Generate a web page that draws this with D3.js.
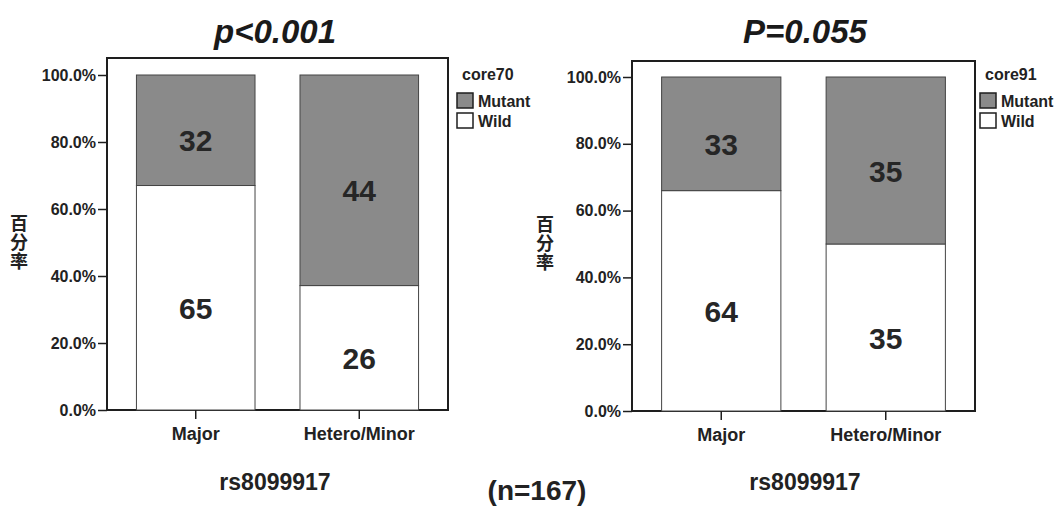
<!DOCTYPE html>
<html>
<head>
<meta charset="utf-8">
<script src="https://cdn.jsdelivr.net/npm/d3@7"></script>
<style>
  html, body { margin: 0; padding: 0; background: #fff; }
  svg { display: block; font-family: "Liberation Sans", Arial, sans-serif; }
</style>
</head>
<body>
<svg id="chart" width="1059" height="506"></svg>
<script>
// Genotype groups along the x axis
const groups = ["Major", "Hetero/Minor"];

// Counts per group (core70)
const core70Wild = [65, 26];
const core70Mutant = [32, 44];

// Counts per group (core91)
const core91Wild = [64, 35];
const core91Mutant = [33, 35];

// Y axis ticks (proportion)
const yTicks = [0, 0.2, 0.4, 0.6, 0.8, 1.0];

// Panel texts
const panelTitles = ["p<0.001", "P=0.055"];
const legendTitles = ["core70", "core91"];
const legendLabels = ["Mutant", "Wild"];
const xTitle = "rs8099917";
const yTitle = "百分率";
const footnote = "(n=167)";

const MUTANT = "#8a8a8a";
const WILD = "#ffffff";
const INK = "#1e1e1e";

const svg = d3.select("#chart");

function drawPanel(opt) {
  const g = svg.append("g");
  const x = d3.scaleBand().domain(groups)
    .range([opt.left, opt.right]).paddingInner(0.275).paddingOuter(0.18);
  const y = d3.scaleLinear().domain([0, 1]).range([opt.y0, opt.y100]);

  const rows = groups.map((k, i) => {
    const total = opt.wild[i] + opt.mutant[i];
    return { key: k, wild: opt.wild[i], mutant: opt.mutant[i],
             pw: opt.wild[i] / total, total };
  });

  // frame
  g.append("rect")
    .attr("x", opt.left).attr("y", opt.top)
    .attr("width", opt.right - opt.left).attr("height", opt.y0 - opt.top)
    .attr("fill", "none").attr("stroke", INK).attr("stroke-width", 2);

  // wild segments
  g.selectAll("rect.wild").data(rows).join("rect").attr("class", "wild")
    .attr("x", d => x(d.key)).attr("width", x.bandwidth())
    .attr("y", d => y(d.pw)).attr("height", d => y(0) - y(d.pw))
    .attr("fill", WILD).attr("stroke", "#444").attr("stroke-width", 1);

  // mutant segments
  g.selectAll("rect.mut").data(rows).join("rect").attr("class", "mut")
    .attr("x", d => x(d.key)).attr("width", x.bandwidth())
    .attr("y", d => y(1)).attr("height", d => y(d.pw) - y(1))
    .attr("fill", MUTANT).attr("stroke", "#444").attr("stroke-width", 1);

  // count labels
  const lab = g.append("g").attr("font-weight", "bold").attr("font-size", 30)
    .attr("fill", "#262626").attr("text-anchor", "middle");
  lab.selectAll("text.mw").data(rows).join("text")
    .attr("x", d => x(d.key) + x.bandwidth() / 2)
    .attr("y", d => (y(0) + y(d.pw)) / 2 + 21)
    .text(d => d.wild);
  lab.selectAll("text.mm").data(rows).join("text")
    .attr("x", d => x(d.key) + x.bandwidth() / 2)
    .attr("y", d => (y(d.pw) + y(1)) / 2 + 21)
    .text(d => d.mutant);

  // y axis
  const ya = g.append("g").attr("transform", `translate(${opt.left},0)`)
    .call(d3.axisLeft(y).tickValues(yTicks).tickSize(9).tickPadding(2)
      .tickFormat(d => (d * 100).toFixed(1) + "%"));
  ya.select(".domain").remove();
  ya.selectAll("line").attr("stroke", INK).attr("stroke-width", 1.5);
  ya.selectAll("text").attr("font-family", "Liberation Sans, Arial, sans-serif")
    .attr("font-size", 16).attr("font-weight", "bold").attr("fill", "#222");

  // x axis
  const xa = g.append("g").attr("transform", `translate(0,${opt.y0})`)
    .call(d3.axisBottom(x).tickSize(9).tickPadding(8));
  xa.select(".domain").remove();
  xa.selectAll("line").attr("stroke", INK).attr("stroke-width", 1.5);
  xa.selectAll("text").attr("font-family", "Liberation Sans, Arial, sans-serif")
    .attr("font-size", 18).attr("font-weight", "bold").attr("fill", "#222");

  // y title, set vertically
  g.append("text")
    .attr("x", opt.yTitleX).attr("y", (opt.y0 + opt.y100) / 2)
    .attr("font-family", "Noto Sans CJK SC")
    .attr("font-weight", "bold").attr("font-size", 18).attr("fill", "#222")
    .attr("text-anchor", "middle")
    .style("writing-mode", "vertical-rl").style("text-orientation", "upright")
    .style("letter-spacing", "1px")
    .text(yTitle);

  // panel title
  g.append("text").attr("x", opt.titleX).attr("y", 43)
    .attr("text-anchor", "middle").attr("font-size", 33)
    .attr("font-weight", "bold").attr("font-style", "italic").attr("fill", "#1a1a1a")
    .text(opt.title);

  // x title
  g.append("text").attr("x", opt.titleX).attr("y", 490)
    .attr("text-anchor", "middle").attr("font-size", 23)
    .attr("font-weight", "bold").attr("fill", "#222")
    .text(xTitle);

  // legend
  const lg = g.append("g").attr("transform", `translate(${opt.legendX},0)`);
  lg.append("text").attr("x", 5).attr("y", 80).attr("font-size", 16)
    .attr("font-weight", "bold").attr("fill", "#222").text(opt.legendTitle);
  const items = [MUTANT, WILD];
  lg.selectAll("rect").data(items).join("rect")
    .attr("x", 0).attr("y", (d, i) => 93 + i * 20)
    .attr("width", 16).attr("height", 15)
    .attr("fill", d => d).attr("stroke", INK).attr("stroke-width", 1.5);
  lg.selectAll("text.li").data(legendLabels).join("text").attr("class", "li")
    .attr("x", 21).attr("y", (d, i) => 107 + i * 20)
    .attr("font-size", 16).attr("font-weight", "bold").attr("fill", "#222")
    .text(d => d);
}

drawPanel({
  left: 107, right: 448, top: 58, y0: 410, y100: 75,
  wild: core70Wild, mutant: core70Mutant,
  title: panelTitles[0], titleX: 275, legendTitle: legendTitles[0],
  legendX: 457, yTitleX: 19
});

drawPanel({
  left: 632, right: 975, top: 61, y0: 411, y100: 77,
  wild: core91Wild, mutant: core91Mutant,
  title: panelTitles[1], titleX: 805, legendTitle: legendTitles[1],
  legendX: 980, yTitleX: 545
});

svg.append("text").attr("x", 537).attr("y", 500)
  .attr("text-anchor", "middle").attr("font-size", 28)
  .attr("font-weight", "bold").attr("fill", "#222").text(footnote);
</script>
</body>
</html>
